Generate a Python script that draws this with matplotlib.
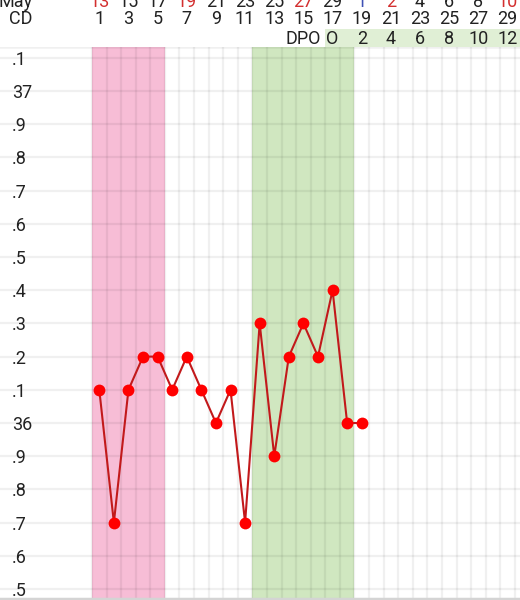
import numpy as np
import matplotlib
matplotlib.use("Agg")
import matplotlib.pyplot as plt
from matplotlib.transforms import blended_transform_factory
from matplotlib.patches import Rectangle

plt.rcParams['font.family'] = ['Roboto', 'DejaVu Sans']

# temperatures per cycle day
cd = np.arange(1, 20)
temps = [36.1, 35.7, 36.1, 36.2, 36.2, 36.1, 36.2, 36.1, 36.0, 36.1,
         35.7, 36.3, 35.9, 36.2, 36.3, 36.2, 36.4, 36.0, 36.0]

# header rows
date_cd = list(range(1, 30, 2))
date_labels = ['13', '15', '17', '19', '21', '23', '25', '27', '29', '1', '2', '4', '6', '8', '10']
date_kind = ['we', '', '', 'we', '', '', '', 'we', '', 'month', 'we', '', '', '', 'we']
dpo_cd = list(range(17, 30, 2))
dpo_labels = ['O', '2', '4', '6', '8', '10', '12']

# y axis ticks
y_ticks = [37.1, 37.0, 36.9, 36.8, 36.7, 36.6, 36.5, 36.4, 36.3, 36.2, 36.1,
           36.0, 35.9, 35.8, 35.7, 35.6, 35.5]
y_labels = ['.1', '37', '.9', '.8', '.7', '.6', '.5', '.4', '.3', '.2', '.1',
            '36', '.9', '.8', '.7', '.6', '.5']

period_days = (1, 5)
fertile_days = (12, 18)

W, H = 520, 600
fig = plt.figure(figsize=(W / 100, H / 100), dpi=100)
top_px = 47
ax = fig.add_axes([0, 0, 1, (H - top_px) / H])

px_day = 14.58
px_unit = 332.0
x0 = 0.5 - 92 / px_day
ax.set_xlim(x0, x0 + W / px_day)
ylo = 35.5 - 11 / px_unit
ax.set_ylim(ylo, ylo + (H - top_px) / px_unit)
ax.axis('off')

# shaded bands
ax.axvspan(period_days[0] - 0.5, period_days[1] + 0.5, color='#F7BDD6', zorder=0, lw=0)
ax.axvspan(fertile_days[0] - 0.5, fertile_days[1] + 0.5, color='#D0E7C0', zorder=0, lw=0)

# grid
gcol = (0, 0, 0, 0.06)
for v in y_ticks:
    ax.axhline(v, color=gcol, lw=1.6, zorder=1)
ax.axhline(ax.get_ylim()[1], color=gcol, lw=1.8, zorder=1)
for x in np.arange(0.5, 31, 1):
    ax.axvline(x, color=gcol, lw=1.6, zorder=1)
ax.axhline(ylo + 1 / px_unit, color='#d4d4d4', lw=2.5, zorder=1)

# y labels
ylab_tr = blended_transform_factory(fig.transFigure, ax.transData)
for v, lab in zip(y_ticks, y_labels):
    fig.text(12 / W, v - 2 / px_unit, lab, transform=ylab_tr, ha='left', va='center',
             fontsize=13, color='#222222')

# temperature line
ax.plot(cd, temps, color='#C2191B', lw=1.5, zorder=3)
ax.plot(cd, temps, 'o', color='#FF0000', markersize=8.5, markeredgewidth=0, zorder=4)

# header
htr = blended_transform_factory(ax.transData, fig.transFigure)
ax.add_patch(Rectangle((16.5, 1 - 47 / H), 20, 18 / H, transform=htr,
                       facecolor='#E0EFD5', edgecolor='none', clip_on=False))

kind_col = {'we': '#D32F2F', '': '#222222', 'month': '#3F51B5'}
for c, lab, k in zip(date_cd, date_labels, date_kind):
    fig.text(c, 1 - 2 / H, lab, transform=htr, ha='center', va='center',
             fontsize=13, color=kind_col[k])
    fig.text(c, 1 - 19 / H, str(c), transform=htr, ha='center', va='center',
             fontsize=13, color='#222222')
for c, lab in zip(dpo_cd, dpo_labels):
    fig.text(c, 1 - 38.5 / H, lab, transform=htr, ha='center', va='center',
             fontsize=13, color='#222222')
fig.text(15, 1 - 38.5 / H, 'DPO', transform=htr, ha='center', va='center',
         fontsize=13, color='#222222')
fig.text(33 / W, 1 - 2 / H, 'May', ha='right', va='center', fontsize=13, color='#222222')
fig.text(33 / W, 1 - 19 / H, 'CD', ha='right', va='center', fontsize=13, color='#222222')

fig.savefig('out.png', dpi=100)
